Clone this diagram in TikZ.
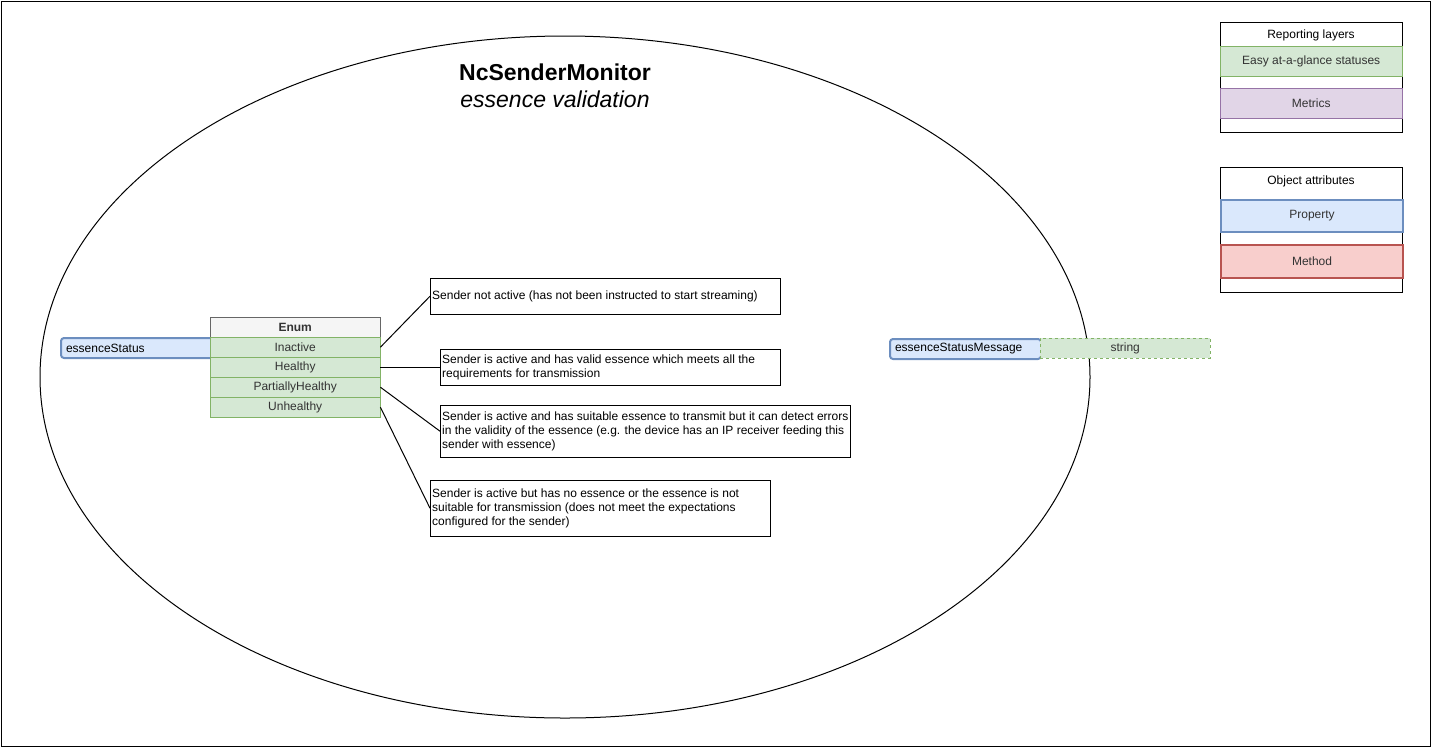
\documentclass[tikz,border=0pt]{standalone}
\usepackage{fontspec}
\setmainfont{Liberation Sans}
\definecolor{greenF}{HTML}{D5E8D4}
\definecolor{greenD}{HTML}{82B366}
\definecolor{blueF}{HTML}{DAE8FC}
\definecolor{blueD}{HTML}{6C8EBF}
\definecolor{purpF}{HTML}{E1D5E7}
\definecolor{purpD}{HTML}{9673A6}
\definecolor{redF}{HTML}{F8CECC}
\definecolor{redD}{HTML}{B85450}
\definecolor{grayF}{HTML}{F5F5F5}
\definecolor{grayD}{HTML}{666666}
\definecolor{txt}{HTML}{333333}
\begin{document}
\begin{tikzpicture}[x=1pt,y=-1pt,
  every node/.style={font=\fontsize{12}{14}\selectfont},
  cell/.style={draw=greenD, fill=greenF, minimum width=170pt, minimum height=20pt, inner sep=0pt, anchor=north west, text=txt},
  hdr/.style={draw=grayD, fill=grayF, minimum width=170pt, minimum height=20pt, inner sep=0pt, anchor=north west, text=txt, font=\fontsize{12}{14}\selectfont\bfseries},
  prop/.style={draw=blueD, fill=blueF, line width=2pt, rounded corners=3pt, minimum height=20pt, inner ysep=0pt, inner xsep=5pt, anchor=north west, align=left},
  desc/.style={draw=black, fill=white, inner sep=0pt, anchor=north west},
  desctext/.style={anchor=west, align=left, inner sep=0pt},
  legbox/.style={draw=black, fill=white, inner sep=0pt, anchor=north west, minimum width=182pt},
  legrow/.style={inner sep=0pt, anchor=north west, minimum width=182pt, text=txt},
  link/.style={draw=black, line width=1pt}
]
\useasboundingbox (0,0) rectangle (1431,748);
\draw[line width=1pt] (1,1) rectangle (1430,746);
% ellipse
\draw[line width=1pt] (565,377) ellipse [x radius=525pt, y radius=341pt];
% title
\node[font=\fontsize{23}{27}\selectfont\bfseries] (title) at (555,72) {NcSenderMonitor};
\node[font=\fontsize{23}{27}\selectfont\itshape] (subtitle) at (555,99) {essence validation};
% essenceStatus property
\node[prop, text width=145pt] (es) at (60,337) {essenceStatus};
% enum table
\node[hdr] (enum) at (210,317) {Enum};
\node[cell] (inactive) at (210,337) {Inactive};
\node[cell] (healthy) at (210,357) {Healthy};
\node[cell] (partial) at (210,377) {PartiallyHealthy};
\node[cell] (unhealthy) at (210,397) {Unhealthy};
% description boxes
\node[desc, minimum width=350pt, minimum height=36pt] (b1) at (430,278) {};
\node[desctext] (t1) at ([xshift=2pt]b1.west) {Sender not active (has not been instructed to start streaming)};
\node[desc, minimum width=340pt, minimum height=36pt] (b2) at (440,349) {};
\node[desctext] (t2) at ([xshift=2pt]b2.west) {Sender is active and has valid essence which meets all the\\requirements for transmission};
\node[desc, minimum width=410pt, minimum height=52pt] (b3) at (440,405) {};
\node[desctext] (t3) at ([xshift=2pt]b3.west) {Sender is active and has suitable essence to transmit but it can detect errors\\in the validity of the essence (e.g. the device has an IP receiver feeding this\\sender with essence)};
\node[desc, minimum width=340pt, minimum height=56pt] (b4) at (430,480) {};
\node[desctext] (t4) at ([xshift=2pt]b4.west) {Sender is active but has no essence or the essence is not\\suitable for transmission (does not meet the expectations\\configured for the sender)};
% connectors
\draw[link] (inactive.east) -- (b1.west);
\draw[link] (healthy.east) -- (b2.west);
\draw[link] (partial.east) -- (b3.west);
\draw[link] (unhealthy.east) -- (b4.west);
% essenceStatusMessage
\node[prop, text width=141pt] (esm) at (889,338) {essenceStatusMessage};
\node[cell, dashed, dash pattern=on 3pt off 3pt] (str) at (1040,338) {string};
% legend 1
\node[legbox, minimum height=110pt] (leg1) at (1220,22) {};
\node[text=black] (leg1t) at (1311,35) {Reporting layers};
\node[legrow, draw=greenD, fill=greenF, minimum height=30pt] (leggreen) at (1220,46) {Easy at-a-glance statuses};
\node[legrow, draw=purpD, fill=purpF, minimum height=30pt] (legpurp) at (1220,88) {Metrics};
% legend 2
\node[legbox, minimum height=125pt] (leg2) at (1220,167) {};
\node[text=black] (leg2t) at (1311,181) {Object attributes};
\node[legrow, draw=blueD, fill=blueF, line width=2pt, minimum height=32pt] (legblue) at (1220,199) {Property};
\node[legrow, draw=redD, fill=redF, line width=2pt, minimum height=33pt] (legred) at (1220,244) {Method};
\end{tikzpicture}
\end{document}
